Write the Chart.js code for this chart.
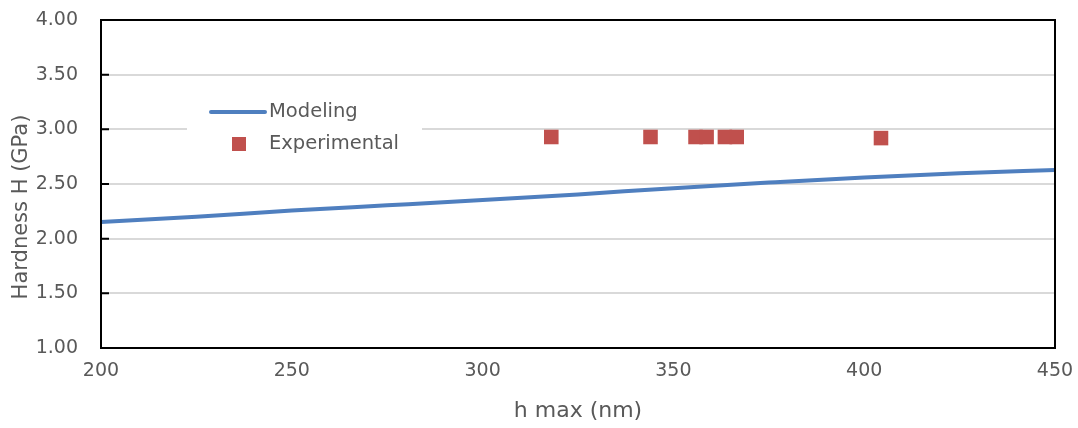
<!DOCTYPE html>
<html>
<head>
<meta charset="utf-8">
<title>Hardness vs h max</title>
<script src="https://cdn.jsdelivr.net/npm/chart.js@4.4.1/dist/chart.umd.min.js"></script>
<style>
  html, body { margin: 0; padding: 0; background: #fff; }
  #wrap { width: 1078px; height: 428px; }
</style>
</head>
<body>
<div id="wrap"><canvas id="hardness" width="1078" height="428"></canvas></div>
<script>
// model curve: h max (nm) -> hardness (GPa)
const modelDepth = [200, 225, 250, 275, 300, 325, 350, 375, 400, 425, 450];
const modelHardness = [2.152, 2.20, 2.258, 2.305, 2.353, 2.405, 2.462, 2.513, 2.560, 2.598, 2.628];

// indentation measurements
const expDepth = [318, 344, 355.8, 358.7, 363.5, 366.6, 404.4];
const expHardness = [2.93, 2.93, 2.93, 2.93, 2.93, 2.93, 2.92];

const xTicks = [200, 250, 300, 350, 400, 450];
const yTicks = [1.0, 1.5, 2.0, 2.5, 3.0, 3.5, 4.0];

const BLUE = '#4f7fbf';
const RED = '#c0504d';
const TEXT = '#595959';
const FONT = "'DejaVu Sans', sans-serif";

Chart.defaults.font.family = FONT;
Chart.defaults.color = TEXT;

const toPoints = (xs, ys) => xs.map((x, i) => ({ x, y: ys[i] }));

// box around the plot, inward ticks on the y axis, rotated y title, inset legend
const framePlugin = {
  id: 'frame',
  afterDraw(chart) {
    const { ctx, chartArea: a, scales } = chart;
    ctx.save();

    ctx.strokeStyle = '#000';
    ctx.lineWidth = 2;
    ctx.strokeRect(a.left, a.top, a.right - a.left, a.bottom - a.top);

    ctx.beginPath();
    yTicks.forEach((v) => {
      const y = scales.y.getPixelForValue(v);
      ctx.moveTo(a.left, y);
      ctx.lineTo(a.left + 8, y);
    });
    ctx.stroke();

    // y axis title
    ctx.fillStyle = TEXT;
    ctx.font = '21px ' + FONT;
    ctx.textAlign = 'center';
    ctx.textBaseline = 'middle';
    ctx.translate(22, a.top + (a.bottom - a.top) / 2 + 23);
    ctx.rotate(-Math.PI / 2);
    ctx.fillText('Hardness H (GPa)', 0, 0);
    ctx.restore();

    // legend
    ctx.save();
    const lx = a.left + 86, ly = a.top + 72;
    ctx.fillStyle = '#fff';
    ctx.fillRect(lx, ly, 235, 66);

    const ds = chart.data.datasets;
    ctx.strokeStyle = ds[0].borderColor;
    ctx.lineWidth = 4;
    ctx.lineCap = 'round';
    ctx.beginPath();
    ctx.moveTo(lx + 24, ly + 20);
    ctx.lineTo(lx + 78, ly + 20);
    ctx.stroke();

    ctx.fillStyle = ds[1].backgroundColor;
    ctx.fillRect(lx + 45, ly + 45, 14, 14);

    ctx.fillStyle = TEXT;
    ctx.font = '19.5px ' + FONT;
    ctx.textAlign = 'left';
    ctx.textBaseline = 'middle';
    ctx.fillText(ds[0].label, lx + 82, ly + 20);
    ctx.fillText(ds[1].label, lx + 82, ly + 52);
    ctx.restore();
  }
};

new Chart(document.getElementById('hardness'), {
  type: 'scatter',
  data: {
    datasets: [
      {
        label: 'Modeling',
        data: toPoints(modelDepth, modelHardness),
        showLine: true,
        borderColor: BLUE,
        backgroundColor: BLUE,
        borderWidth: 4,
        pointRadius: 0,
        cubicInterpolationMode: 'monotone',
        order: 2,
      },
      {
        label: 'Experimental',
        data: toPoints(expDepth, expHardness),
        showLine: false,
        pointStyle: 'rect',
        pointRadius: 10.3,
        pointBorderWidth: 0,
        backgroundColor: RED,
        borderColor: RED,
        order: 1,
      },
    ],
  },
  options: {
    responsive: false,
    animation: false,
    devicePixelRatio: 1,
    layout: { padding: { top: 20, right: 23, left: 0, bottom: 0 } },
    plugins: {
      legend: { display: false },
      tooltip: { enabled: false },
    },
    scales: {
      x: {
        type: 'linear',
        min: 200,
        max: 450,
        afterFit: (s) => { s.height = 80; s.paddingLeft = 0; s.paddingRight = 0; },
        afterBuildTicks: (s) => { s.ticks = xTicks.map((v) => ({ value: v })); },
        ticks: { padding: 12, font: { size: 19 }, color: TEXT },
        grid: { display: false, drawTicks: false },
        border: { display: false },
        title: {
          display: true,
          text: 'h max (nm)',
          font: { size: 22 },
          color: TEXT,
          padding: { top: 0, bottom: 4 },
        },
      },
      y: {
        type: 'linear',
        min: 1,
        max: 4,
        afterFit: (s) => { s.width = 101; s.paddingTop = 0; s.paddingBottom = 0; },
        afterBuildTicks: (s) => { s.ticks = yTicks.map((v) => ({ value: v })); },
        ticks: {
          padding: 23,
          font: { size: 19 },
          color: TEXT,
          callback: (v) => Number(v).toFixed(2),
        },
        grid: { color: '#d9d9d9', lineWidth: 2, drawTicks: false },
        border: { display: false },
      },
    },
  },
  plugins: [framePlugin],
});
</script>
</body>
</html>
